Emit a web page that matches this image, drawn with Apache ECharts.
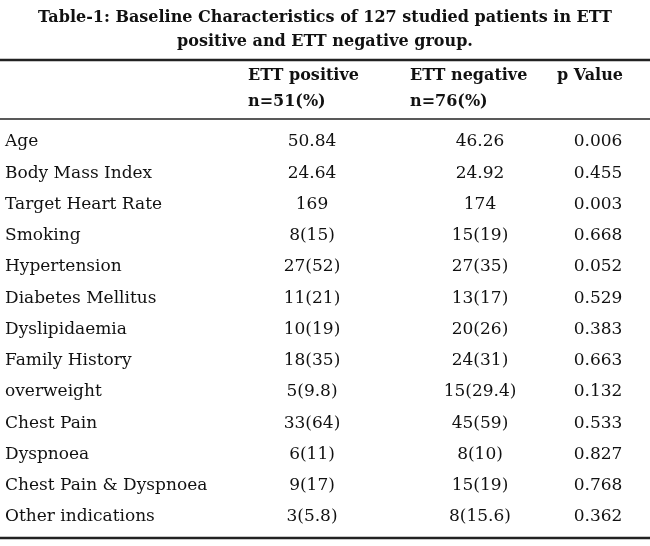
<!DOCTYPE html>
<html><head><meta charset="utf-8">
<script src="https://cdn.jsdelivr.net/npm/echarts@6/dist/echarts.min.js"></script>
<style>html,body{margin:0;padding:0;background:#fff}#c{width:650px;height:546px}</style>
</head><body><div id="c"></div>
<script>
const titleLines = ["Table-1: Baseline Characteristics of 127 studied patients in ETT", "positive and ETT negative group."];
const headers = [["ETT positive", "n=51(%)"], ["ETT negative", "n=76(%)"], ["p Value", ""]];
const categories = ["Age","Body Mass Index","Target Heart Rate","Smoking","Hypertension","Diabetes Mellitus","Dyslipidaemia","Family History","overweight","Chest Pain","Dyspnoea","Chest Pain & Dyspnoea","Other indications"];
const ettPositive = ["50.84","24.64","169","8(15)","27(52)","11(21)","10(19)","18(35)","5(9.8)","33(64)","6(11)","9(17)","3(5.8)"];
const ettNegative = ["46.26","24.92","174","15(19)","27(35)","13(17)","20(26)","24(31)","15(29.4)","45(59)","8(10)","15(19)","8(15.6)"];
const pValues = ["0.006","0.455","0.003","0.668","0.052","0.529","0.383","0.663","0.132","0.533","0.827","0.768","0.362"];

const F = "'DejaVu Serif',serif";
const els = [];
function txt(x, y, s, align, bold, size) {
  els.push({type:'text', x:x, y:y, style:{text:s, x:0, y:0, fill:'#111', font:(bold?'bold ':'')+(size||17)+'px '+F, textAlign:align||'left', textVerticalAlign:'middle'}});
}
function line(y, w) {
  els.push({type:'line', shape:{x1:0, y1:y, x2:650, y2:y}, style:{stroke:'#222', lineWidth:w}});
}
txt(325, 18, titleLines[0], 'center', true, 16);
txt(325, 42, titleLines[1], 'center', true, 16);
line(60, 2.5);
const hx = [248, 410, 557];
headers.forEach((h, i) => { txt(hx[i], 76, h[0], 'left', true, 16); if (h[1]) txt(hx[i], 102, h[1], 'left', true, 16); });
line(119, 1.5);
const y0 = 142, dy = 31.25;
categories.forEach((c, i) => {
  const y = y0 + i * dy;
  txt(5, y, c, 'left');
  txt(312, y, ettPositive[i], 'center');
  txt(480, y, ettNegative[i], 'center');
  txt(598, y, pValues[i], 'center');
});
line(538, 2.5);
const chart = echarts.init(document.getElementById('c'));
chart.setOption({animation:false, graphic:{elements:els}});
</script></body></html>
